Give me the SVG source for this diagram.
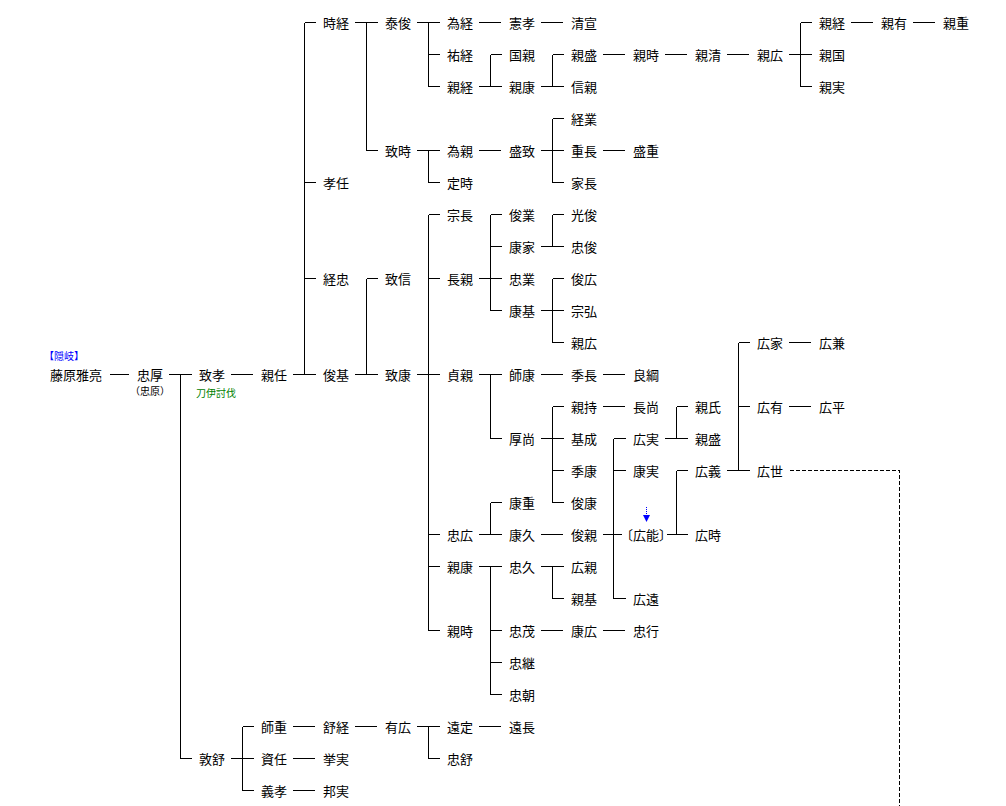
<svg xmlns="http://www.w3.org/2000/svg" width="1006" height="806" viewBox="0 0 1006 806">
<style>
text{font-family:"Noto Sans CJK JP","Noto Sans CJK SC",sans-serif;font-size:13px;fill:#000}
.s{font-size:10px}
.blue{fill:#0000ff}
.green{fill:#008000}
.ln{fill:none;stroke:#000;stroke-width:1;shape-rendering:crispEdges}
.dsh{fill:none;stroke:#000;stroke-width:1;stroke-dasharray:4 2;shape-rendering:crispEdges}
.arr{fill:none;stroke:#0000ff;stroke-width:1;stroke-dasharray:1 1;shape-rendering:crispEdges}
</style>
<rect width="1006" height="806" fill="#fff"/>
<g id="connectors">
<path class="ln" d="
M110 374.5H129
M231 374.5H253
M479 22.5H501 M541 22.5H563
M603 54.5H625 M665 54.5H687 M727 54.5H749
M851 22.5H873 M913 22.5H935
M479 150.5H501 M603 150.5H625
M541 374.5H563 M603 374.5H625
M603 406.5H625
M789 342.5H811 M789 406.5H811
M541 534.5H563
M541 630.5H563 M603 630.5H625
M293 726.5H315 M355 726.5H377 M479 726.5H501
M293 758.5H315 M293 790.5H315
M169 374.5H180.5 M180.5 374.5V758.5 M180.5 374.5H192 M180.5 758.5H192
M293 374.5H304.5 M304.5 22.5V374.5 M304.5 22.5H316 M304.5 182.5H316 M304.5 278.5H316 M304.5 374.5H316
M355 22.5H366.5 M366.5 22.5V150.5 M366.5 22.5H378 M366.5 150.5H378
M355 374.5H366.5 M366.5 278.5V374.5 M366.5 278.5H378 M366.5 374.5H378
M417 22.5H428.5 M428.5 22.5V86.5 M428.5 22.5H440 M428.5 54.5H440 M428.5 86.5H440
M417 150.5H428.5 M428.5 150.5V182.5 M428.5 150.5H440 M428.5 182.5H440
M417 374.5H428.5 M428.5 214.5V630.5 M428.5 214.5H440 M428.5 278.5H440 M428.5 374.5H440 M428.5 534.5H440 M428.5 566.5H440 M428.5 630.5H440
M479 86.5H490.5 M490.5 54.5V86.5 M490.5 54.5H502 M490.5 86.5H502
M541 86.5H552.5 M552.5 54.5V86.5 M552.5 54.5H564 M552.5 86.5H564
M789 54.5H800.5 M800.5 22.5V86.5 M800.5 22.5H812 M800.5 54.5H812 M800.5 86.5H812
M541 150.5H552.5 M552.5 118.5V182.5 M552.5 118.5H564 M552.5 150.5H564 M552.5 182.5H564
M479 278.5H490.5 M490.5 214.5V310.5 M490.5 214.5H502 M490.5 246.5H502 M490.5 278.5H502 M490.5 310.5H502
M541 246.5H552.5 M552.5 214.5V246.5 M552.5 214.5H564 M552.5 246.5H564
M541 310.5H552.5 M552.5 278.5V342.5 M552.5 278.5H564 M552.5 310.5H564 M552.5 342.5H564
M479 374.5H490.5 M490.5 374.5V438.5 M490.5 374.5H502 M490.5 438.5H502
M541 438.5H552.5 M552.5 406.5V502.5 M552.5 406.5H564 M552.5 438.5H564 M552.5 470.5H564 M552.5 502.5H564
M665 438.5H676.5 M676.5 406.5V438.5 M676.5 406.5H688 M676.5 438.5H688
M603 534.5H613.5 M613.5 438.5V598.5 M613.5 438.5H626 M613.5 470.5H626 M613.5 534.5H622 M613.5 598.5H626
M667 534.5H676.5 M676.5 470.5V534.5 M676.5 470.5H688 M676.5 534.5H688
M727 470.5H738.5 M738.5 342.5V470.5 M738.5 342.5H750 M738.5 406.5H750 M738.5 470.5H750
M479 534.5H490.5 M490.5 502.5V534.5 M490.5 502.5H502 M490.5 534.5H502
M479 566.5H490.5 M490.5 566.5V694.5 M490.5 566.5H502 M490.5 630.5H502 M490.5 662.5H502 M490.5 694.5H502
M541 566.5H552.5 M552.5 566.5V598.5 M552.5 566.5H564 M552.5 598.5H564
M231 758.5H242.5 M242.5 726.5V790.5 M242.5 726.5H254 M242.5 758.5H254 M242.5 790.5H254
M417 726.5H428.5 M428.5 726.5V758.5 M428.5 726.5H440 M428.5 758.5H440
"/>
<path class="dsh" d="M790 470.5H899.5V806"/>
<path class="arr" d="M646.5 507V515"/>
<polygon points="643,515 650,515 646.5,522" fill="#0000ff"/>
</g>
<g id="n-masasuke"><text x="50" y="379.5">藤原雅亮</text><text class="s blue" x="44" y="360">【隠岐】</text></g>
<g id="n-tadaatsu"><text x="137" y="379.5">忠厚</text><text class="s" x="150" y="395" text-anchor="middle">（忠原）</text></g>
<g id="n-munetaka"><text x="199" y="379.5">致孝</text><text class="s green" x="196" y="397">刀伊討伐</text></g>
<g id="n-atsunobu"><text x="199" y="763.5">敦舒</text></g>
<g id="n-chikato"><text x="261" y="379.5">親任</text></g>
<g id="n-morishige"><text x="261" y="731.5">師重</text></g>
<g id="n-suketo"><text x="261" y="763.5">資任</text></g>
<g id="n-yoshitaka"><text x="261" y="795.5">義孝</text></g>
<g id="n-tokitsune"><text x="323" y="27.5">時経</text></g>
<g id="n-takato"><text x="323" y="187.5">孝任</text></g>
<g id="n-tsunetada"><text x="323" y="283.5">経忠</text></g>
<g id="n-toshimoto"><text x="323" y="379.5">俊基</text></g>
<g id="n-nobutsune"><text x="323" y="731.5">舒経</text></g>
<g id="n-takazane"><text x="323" y="763.5">挙実</text></g>
<g id="n-kunizane"><text x="323" y="795.5">邦実</text></g>
<g id="n-yasutoshi"><text x="385" y="27.5">泰俊</text></g>
<g id="n-munetoki"><text x="385" y="155.5">致時</text></g>
<g id="n-munenobu"><text x="385" y="283.5">致信</text></g>
<g id="n-muneyasu"><text x="385" y="379.5">致康</text></g>
<g id="n-arihiro"><text x="385" y="731.5">有広</text></g>
<g id="n-tametsune"><text x="447" y="27.5">為経</text></g>
<g id="n-suketsune"><text x="447" y="59.5">祐経</text></g>
<g id="n-chikatsune"><text x="447" y="91.5">親経</text></g>
<g id="n-tamechika"><text x="447" y="155.5">為親</text></g>
<g id="n-sadatoki"><text x="447" y="187.5">定時</text></g>
<g id="n-munenaga"><text x="447" y="219.5">宗長</text></g>
<g id="n-nagachika"><text x="447" y="283.5">長親</text></g>
<g id="n-sadachika"><text x="447" y="379.5">貞親</text></g>
<g id="n-tadahiro"><text x="447" y="539.5">忠広</text></g>
<g id="n-chikayasu2"><text x="447" y="571.5">親康</text></g>
<g id="n-chikatoki2"><text x="447" y="635.5">親時</text></g>
<g id="n-tosada"><text x="447" y="731.5">遠定</text></g>
<g id="n-tadanobu"><text x="447" y="763.5">忠舒</text></g>
<g id="n-noritaka"><text x="509" y="27.5">憲孝</text></g>
<g id="n-kunichika"><text x="509" y="59.5">国親</text></g>
<g id="n-chikayasu"><text x="509" y="91.5">親康</text></g>
<g id="n-morimune"><text x="509" y="155.5">盛致</text></g>
<g id="n-toshinari"><text x="509" y="219.5">俊業</text></g>
<g id="n-yasuie"><text x="509" y="251.5">康家</text></g>
<g id="n-tadanari"><text x="509" y="283.5">忠業</text></g>
<g id="n-yasumoto"><text x="509" y="315.5">康基</text></g>
<g id="n-moroyasu"><text x="509" y="379.5">師康</text></g>
<g id="n-atsunao"><text x="509" y="443.5">厚尚</text></g>
<g id="n-yasushige"><text x="509" y="507.5">康重</text></g>
<g id="n-yasuhisa"><text x="509" y="539.5">康久</text></g>
<g id="n-tadahisa"><text x="509" y="571.5">忠久</text></g>
<g id="n-tadashige"><text x="509" y="635.5">忠茂</text></g>
<g id="n-tadatsugu"><text x="509" y="667.5">忠継</text></g>
<g id="n-tadatomo"><text x="509" y="699.5">忠朝</text></g>
<g id="n-tonaga"><text x="509" y="731.5">遠長</text></g>
<g id="n-kiyonobu"><text x="571" y="27.5">清宣</text></g>
<g id="n-chikamori"><text x="571" y="59.5">親盛</text></g>
<g id="n-nobuchika"><text x="571" y="91.5">信親</text></g>
<g id="n-tsunenari"><text x="571" y="123.5">経業</text></g>
<g id="n-shigenaga"><text x="571" y="155.5">重長</text></g>
<g id="n-ienaga"><text x="571" y="187.5">家長</text></g>
<g id="n-mitsutoshi"><text x="571" y="219.5">光俊</text></g>
<g id="n-tadatoshi"><text x="571" y="251.5">忠俊</text></g>
<g id="n-toshihiro"><text x="571" y="283.5">俊広</text></g>
<g id="n-munehiro"><text x="571" y="315.5">宗弘</text></g>
<g id="n-chikahiro2"><text x="571" y="347.5">親広</text></g>
<g id="n-suenaga"><text x="571" y="379.5">季長</text></g>
<g id="n-chikamochi"><text x="571" y="411.5">親持</text></g>
<g id="n-motonari"><text x="571" y="443.5">基成</text></g>
<g id="n-sueyasu"><text x="571" y="475.5">季康</text></g>
<g id="n-toshiyasu"><text x="571" y="507.5">俊康</text></g>
<g id="n-toshichika"><text x="571" y="539.5">俊親</text></g>
<g id="n-hirochika"><text x="571" y="571.5">広親</text></g>
<g id="n-chikamoto"><text x="571" y="603.5">親基</text></g>
<g id="n-yasuhiro"><text x="571" y="635.5">康広</text></g>
<g id="n-chikatoki"><text x="633" y="59.5">親時</text></g>
<g id="n-morishige2"><text x="633" y="155.5">盛重</text></g>
<g id="n-yoshitsuna"><text x="633" y="379.5">良綱</text></g>
<g id="n-naganao"><text x="633" y="411.5">長尚</text></g>
<g id="n-hirozane"><text x="633" y="443.5">広実</text></g>
<g id="n-yasuzane"><text x="633" y="475.5">康実</text></g>
<g id="n-hiroyoshi-k"><text x="620" y="539.5">〔広能〕</text></g>
<g id="n-hirotoo"><text x="633" y="603.5">広遠</text></g>
<g id="n-tadayuki"><text x="633" y="635.5">忠行</text></g>
<g id="n-chikakiyo"><text x="695" y="59.5">親清</text></g>
<g id="n-chikauji"><text x="695" y="411.5">親氏</text></g>
<g id="n-chikamori2"><text x="695" y="443.5">親盛</text></g>
<g id="n-hiroyoshi"><text x="695" y="475.5">広義</text></g>
<g id="n-hirotoki"><text x="695" y="539.5">広時</text></g>
<g id="n-chikahiro"><text x="757" y="59.5">親広</text></g>
<g id="n-hiroie"><text x="757" y="347.5">広家</text></g>
<g id="n-hiroari"><text x="757" y="411.5">広有</text></g>
<g id="n-hiroyo"><text x="757" y="475.5">広世</text></g>
<g id="n-chikatsune2"><text x="819" y="27.5">親経</text></g>
<g id="n-chikakuni"><text x="819" y="59.5">親国</text></g>
<g id="n-chikazane"><text x="819" y="91.5">親実</text></g>
<g id="n-hirokane"><text x="819" y="347.5">広兼</text></g>
<g id="n-hirohira"><text x="819" y="411.5">広平</text></g>
<g id="n-chikaari"><text x="881" y="27.5">親有</text></g>
<g id="n-chikashige"><text x="943" y="27.5">親重</text></g>
</svg>
